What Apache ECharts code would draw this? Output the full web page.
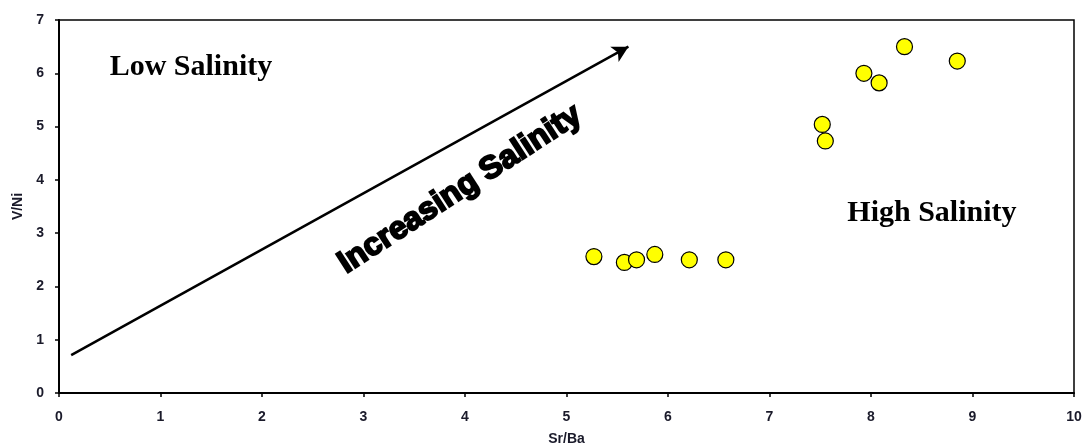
<!DOCTYPE html>
<html><head><meta charset="utf-8">
<script src="https://cdn.jsdelivr.net/npm/echarts@6/dist/echarts.min.js"></script>
<style>html,body{margin:0;padding:0;background:#fff}#c{width:1085px;height:446px}</style>
</head><body><div id="c"></div>
<script>
const srBa = [5.27, 5.57, 5.69, 5.87, 6.21, 6.57, 8.33, 8.85, 7.93, 8.08, 7.52, 7.55];
const vNi  = [2.56, 2.45, 2.50, 2.60, 2.50, 2.50, 6.50, 6.23, 6.00, 5.82, 5.04, 4.73];
const arrowStart = [0.12, 0.71];
const arrowEnd = [5.61, 6.50];
const annotations = [
  {text: 'Low Salinity', at: [1.30, 6.11]},
  {text: 'High Salinity', at: [8.60, 3.38]}
];
const diagLabel = {text: 'Increasing Salinity', at: [3.95, 3.82]};
const xTicks = [0,1,2,3,4,5,6,7,8,9,10];
const yTicks = [0,1,2,3,4,5,6,7];

const chart = echarts.init(document.getElementById('c'));
const pts = srBa.map((x, i) => [x, vNi[i]]);
const axisCommon = {
  axisLine: {show: true, lineStyle: {color: '#000', width: 2}},
  axisTick: {show: true, length: 4, lineStyle: {color: '#000', width: 1.5}},
  splitLine: {show: false},
  axisLabel: {color: '#1a1a2a', fontFamily: 'Liberation Sans', fontSize: 14, fontWeight: 'bold'},
  nameTextStyle: {color: '#1a1a2a', fontFamily: 'Liberation Sans', fontSize: 14, fontWeight: 'bold'}
};
chart.setOption({
  animation: false,
  grid: {left: 59, right: 11, top: 20, bottom: 53, outerBoundsMode: 'none', containLabel: false,
    show: true, borderColor: '#000', borderWidth: 1.5},
  xAxis: Object.assign({}, axisCommon, {
    type: 'value', min: xTicks[0], max: xTicks[xTicks.length-1], interval: 1,
    axisLabel: Object.assign({}, axisCommon.axisLabel, {margin: 17}),
    name: 'Sr/Ba', nameLocation: 'middle', nameGap: 39
  }),
  yAxis: Object.assign({}, axisCommon, {
    type: 'value', min: yTicks[0], max: yTicks[yTicks.length-1], interval: 1,
    axisLabel: Object.assign({}, axisCommon.axisLabel, {margin: 15}),
    name: 'V/Ni', nameLocation: 'middle', nameGap: 31
  }),
  series: [{
    type: 'scatter',
    data: pts,
    symbol: 'circle',
    symbolSize: 16,
    itemStyle: {color: '#FFFF00', borderColor: '#000', borderWidth: 1.2, opacity: 1},
    markLine: {
      silent: true,
      symbol: ['none', 'arrow'],
      symbolSize: [13, 16],
      label: {show: false},
      lineStyle: {color: '#000', width: 2.5, type: 'solid'},
      data: [[{coord: arrowStart}, {coord: arrowEnd}]]
    },
    markPoint: {
      silent: true,
      symbol: 'circle',
      symbolSize: 0,
      data: annotations.map(a => ({
        coord: a.at,
        label: {show: true, position: 'inside', formatter: a.text, color: '#000',
          fontFamily: 'Liberation Serif', fontWeight: 'bold', fontSize: 30}
      })).concat([{
        coord: diagLabel.at,
        label: {show: true, position: 'inside', formatter: diagLabel.text, color: '#000',
          fontFamily: 'Liberation Sans', fontWeight: 900, fontSize: 32, rotate: 33,
          textBorderColor: '#000', textBorderWidth: 2}
      }])
    }
  }]
});
</script></body></html>
